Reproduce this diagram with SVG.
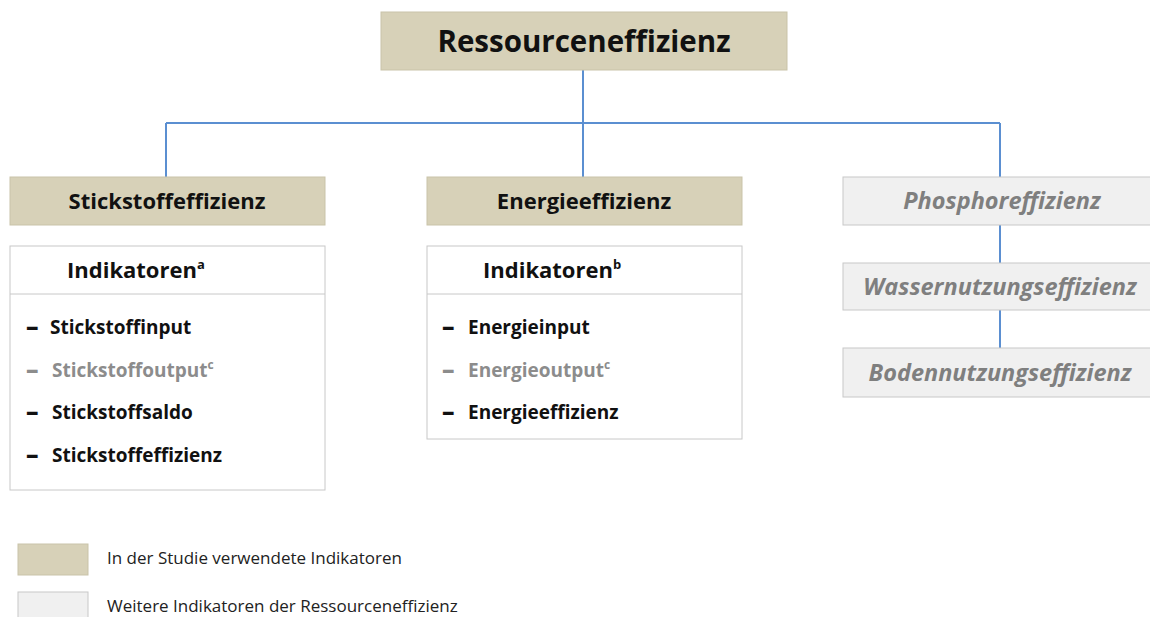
<svg xmlns="http://www.w3.org/2000/svg" width="1150" height="617" viewBox="0 0 1150 617">
<style>
text{font-family:"Open Sans","Liberation Sans",sans-serif;}
.used{fill:#d7d1b8;stroke:#c9c3a9;stroke-width:1}
.other{fill:#f0f0f0;stroke:#c8c8c8;stroke-width:1}
.ind{fill:#fff;stroke:#c8c8c8;stroke-width:1}
.conn{stroke:#5b8fd1;stroke-width:2;fill:none}
.h1{font-size:29.5px;font-weight:700;fill:#111;text-anchor:middle}
.h2{font-size:22px;font-weight:700;fill:#111;text-anchor:middle}
.h2s{font-size:22px;font-weight:700;fill:#111}
.h3{font-size:23.5px;font-weight:700;font-style:italic;fill:#7f7f7f;text-anchor:middle}
.it{font-size:19px;font-weight:700;fill:#111}
.ds{font-size:25px;font-weight:800;fill:#111}
.gr{fill:#8c8c8c}
.lg{font-size:17px;fill:#222}
</style>
<g id="connectors">
<path class="conn" d="M583 70V123M166 123H1000M166 123V177M583 123V177M1000 123V177M1000 225V263M1000 310V348"/>
</g>
<g id="ressourceneffizienz">
<rect class="used" x="381" y="12" width="406" height="58"/>
<text class="h1" x="584" y="52">Ressourceneffizienz</text>
</g>
<g id="stickstoffeffizienz">
<rect class="used" x="10" y="177" width="315" height="48"/>
<text class="h2" x="167" y="209">Stickstoffeffizienz</text>
</g>
<g id="energieeffizienz">
<rect class="used" x="427" y="177" width="315" height="48"/>
<text class="h2" x="584" y="209">Energieeffizienz</text>
</g>
<g id="phosphoreffizienz">
<rect class="other" x="843" y="177" width="310" height="48"/>
<text class="h3" x="1002" y="209">Phosphoreffizienz</text>
</g>
<g id="wassernutzungseffizienz">
<rect class="other" x="843" y="263" width="310" height="47"/>
<text class="h3" x="1000" y="295">Wassernutzungseffizienz</text>
</g>
<g id="bodennutzungseffizienz">
<rect class="other" x="843" y="348" width="310" height="49"/>
<text class="h3" x="1000" y="381">Bodennutzungseffizienz</text>
</g>
<g id="indikatoren-a">
<rect class="ind" x="10" y="246" width="315" height="244"/>
<line x1="10" y1="294" x2="325" y2="294" stroke="#c8c8c8" stroke-width="1"/>
<text class="h2s" x="67" y="278">Indikatoren<tspan font-size="13" dy="-9">a</tspan></text>
<text class="ds" x="26" y="335">–</text><text class="it" x="50" y="334">Stickstoffinput</text>
<text class="ds gr" x="26" y="378">–</text><text class="it gr" x="52" y="377">Stickstoffoutput<tspan font-size="12" dy="-8">c</tspan></text>
<text class="ds" x="26" y="420">–</text><text class="it" x="52" y="419">Stickstoffsaldo</text>
<text class="ds" x="26" y="463">–</text><text class="it" x="52" y="462">Stickstoffeffizienz</text>
</g>
<g id="indikatoren-b">
<rect class="ind" x="427" y="246" width="315" height="193"/>
<line x1="427" y1="294" x2="742" y2="294" stroke="#c8c8c8" stroke-width="1"/>
<text class="h2s" x="483" y="278">Indikatoren<tspan font-size="13" dy="-9">b</tspan></text>
<text class="ds" x="442" y="335">–</text><text class="it" x="468" y="334">Energieinput</text>
<text class="ds gr" x="442" y="378">–</text><text class="it gr" x="468" y="377">Energieoutput<tspan font-size="12" dy="-8">c</tspan></text>
<text class="ds" x="442" y="420">–</text><text class="it" x="468" y="419">Energieeffizienz</text>
</g>
<g id="legend">
<rect class="used" x="18" y="544" width="70" height="31"/>
<text class="lg" x="107" y="564">In der Studie verwendete Indikatoren</text>
<rect class="other" x="18" y="592" width="70" height="30"/>
<text class="lg" x="107" y="612">Weitere Indikatoren der Ressourceneffizienz</text>
</g>
</svg>
